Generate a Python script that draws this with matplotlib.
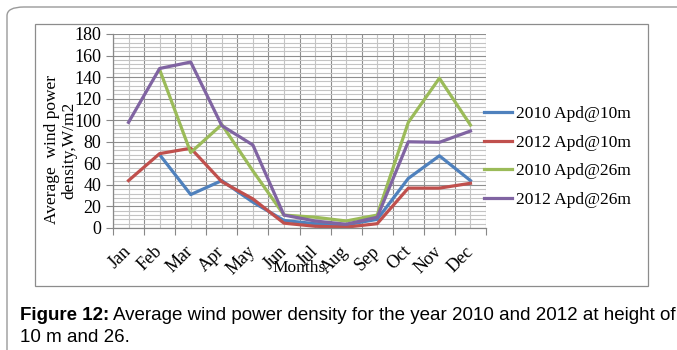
import numpy as np
import matplotlib.pyplot as plt
from matplotlib.patches import FancyBboxPatch, Rectangle

# Monthly average wind power density (W/m2)
months = ["Jan", "Feb", "Mar", "Apr", "May", "Jun",
          "Jul", "Aug", "Sep", "Oct", "Nov", "Dec"]
apd10_2010 = [np.nan, 68, 31, 44, 24, 7, 4, 3, 8, 46, 67, 44]
apd10_2012 = [44, 69, 74, 43, 27, 4.5, 1.6, 0.8, 4, 37, 37, 41.5]
apd26_2010 = [np.nan, 147, 70, 96, 53, 12, 10, 6.5, 12, 98, 139, 95.5]
apd26_2012 = [98, 148, 154, 95, 77, 12, 6.5, 3.5, 10, 80, 79.5, 90]

series = [
    ("2010 Apd@10m", apd10_2010, "#4F81BD"),
    ("2012 Apd@10m", apd10_2012, "#C0504D"),
    ("2010 Apd@26m", apd26_2010, "#9BBB59"),
    ("2012 Apd@26m", apd26_2012, "#8064A2"),
]

W, H = 677, 350
serif = "Liberation Serif"
fig = plt.figure(figsize=(W / 100, H / 100), dpi=100)

# frame around the figure and the chart box
fig.patches.append(FancyBboxPatch((7 / W, -0.1), 1.2, 1 - 7 / H + 0.1,
                                  boxstyle="round,pad=0,rounding_size=0.025",
                                  transform=fig.transFigure, fill=False,
                                  ec="#9a9a9a", lw=1.0))
fig.patches.append(Rectangle((35 / W, 1 - 286 / H), (648 - 35) / W, (286 - 24) / H,
                             transform=fig.transFigure, fill=False,
                             ec="#8c8c8c", lw=0.9))

ax = fig.add_axes([113 / W, 1 - 228 / H, (486 - 113) / W, (228 - 34) / H])
x = np.arange(len(months))
for label, vals, color in series:
    ax.plot(x, vals, color=color, lw=2.3, label=label)

ax.set_xlim(-0.5, 11.5)
ax.set_ylim(0, 180)
ax.set_xticks(np.arange(-0.5, 12, 1))
ax.set_xticklabels([])
ax.set_xticks(x, minor=True)
ax.set_xticklabels(months, minor=True, rotation=45, ha="right", va="center",
                   rotation_mode="anchor", fontfamily=serif, fontsize=13)
ax.set_yticks(np.arange(0, 181, 20))
ax.set_yticks(np.arange(0, 181, 4), minor=True)
ax.tick_params(axis="both", which="major", length=5, color="#888888",
               labelsize=13)
ax.tick_params(axis="both", which="minor", length=0)
ax.tick_params(axis="x", which="minor", pad=15)
for t in ax.get_yticklabels():
    t.set_fontfamily(serif)

ax.grid(which="major", color="#8e8e8e", lw=0.8)
ax.grid(which="minor", color="#c4c4c4", lw=0.8)
ax.set_axisbelow(True)
for side in ("top", "right"):
    ax.spines[side].set_visible(False)
for side in ("left", "bottom"):
    ax.spines[side].set_color("#888888")
    ax.spines[side].set_linewidth(0.9)

fig.text(299.5 / W, 1 - 268 / H, "Months", ha="center", va="center",
         fontfamily=serif, fontsize=12.5)
fig.text(61 / W, 1 - 150 / H, "Average  wind power\ndensity,W/m2",
         rotation=90, ha="center", va="center", fontfamily=serif,
         fontsize=12.5, linespacing=1.12, multialignment="center")

ax.legend(loc="center left", bbox_to_anchor=(484 / W, 1 - 157 / H),
          bbox_transform=fig.transFigure, frameon=False, borderpad=0,
          borderaxespad=0, handlelength=1.6, handletextpad=0.25,
          labelspacing=0.72, prop={"family": serif, "size": 12.5})

# caption below the chart, sized so the first line spans the frame width
cap_kw = dict(fontfamily="Liberation Sans", va="center")
bold = fig.text(20 / W, 1 - 316 / H, "Figure 12:", fontweight="bold",
                fontsize=11.5, **cap_kw)
rest = fig.text(0, 1 - 316 / H,
                "Average wind power density for the year 2010 and 2012 at height of",
                fontsize=11.5, **cap_kw)
fig.canvas.draw()
r = fig.canvas.get_renderer()
w0 = bold.get_window_extent(r).width + 4 + rest.get_window_extent(r).width
size = 11.5 * 658 / w0
bold.set_fontsize(size)
rest.set_fontsize(size)
fig.canvas.draw()
rest.set_x((bold.get_window_extent(r).x1 + 4) / W)
fig.text(20 / W, 1 - 337 / H, "10 m and 26.", fontsize=size, **cap_kw)

fig.savefig("out.png", dpi=100)
